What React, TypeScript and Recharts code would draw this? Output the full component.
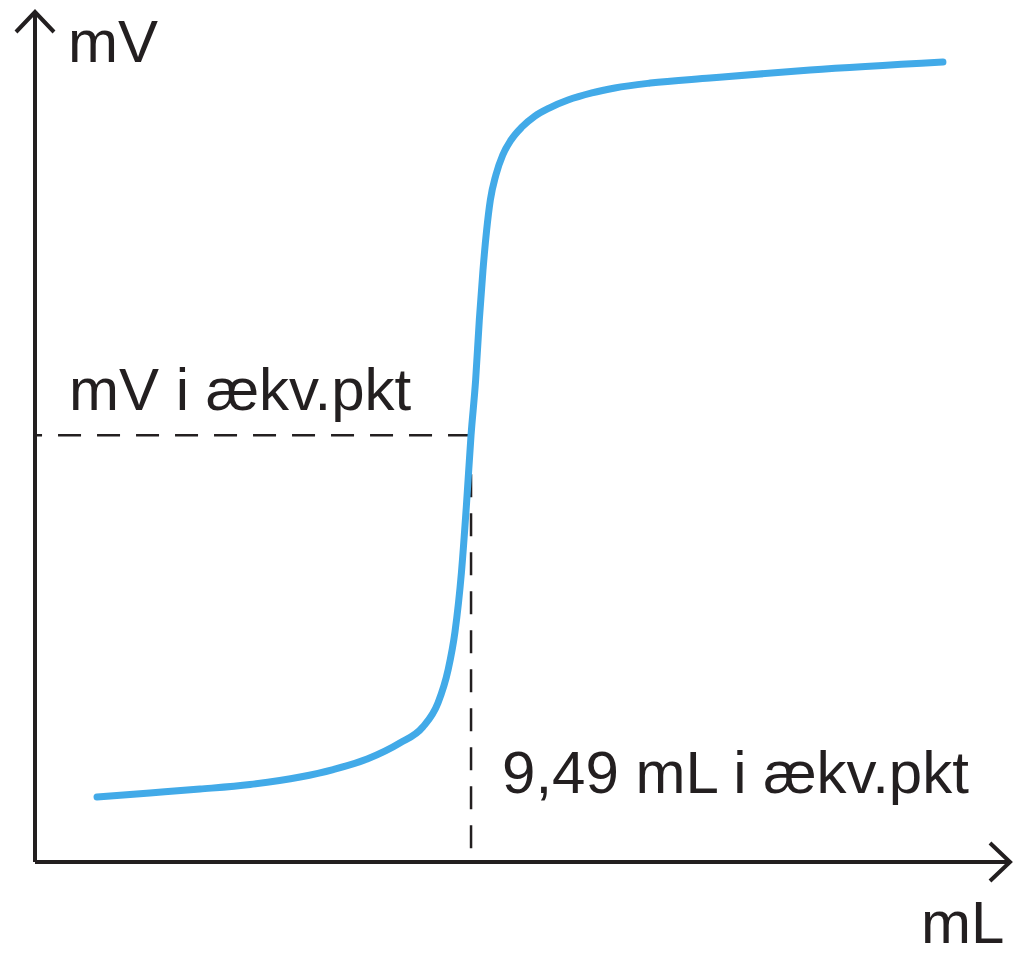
import { LineChart, Line, XAxis, YAxis, ReferenceLine, Label } from "recharts";

// titration: added volume (mL) vs. electrode potential (mV)
const volumeML = [1.35, 2.5, 3.59, 4.68, 5.77, 6.49, 7.23, 7.94, 8.44, 8.77, 8.99, 9.14, 9.28, 9.39, 9.49, 9.59, 9.67, 9.75, 9.83, 9.91, 10.03, 10.18, 10.36, 10.6, 10.88, 11.19, 11.6, 12.12, 12.62, 13.39, 14.69, 16.87, 19.76];
const potentialMV = [38.2, 40.6, 42.9, 45.6, 50.0, 54.4, 60.6, 70.0, 79.4, 93.5, 112.9, 135.3, 170.0, 210.0, 251, 283.5, 318.8, 348.2, 371.8, 389.4, 404.1, 415.9, 424.7, 432.4, 438.8, 443.5, 448.2, 452.4, 455.3, 458.2, 461.2, 465.9, 470.6];

const EQ_ML = 9.49;
const EQ_MV = 251;

const xLabel = "mL";
const yLabel = "mV";
const eqMvLabel = "mV i ækv.pkt";
const eqMlLabel = `${String(EQ_ML).replace(".", ",")} mL i ækv.pkt`;

const data = volumeML.map((ml, i) => ({ ml, mv: potentialMV[i] }));

const INK = "#231f20";
const FONT = "'Liberation Sans', Arial, sans-serif";

const textProps = { fill: INK, fontFamily: FONT, fontSize: 60 };

const App = () => {
  return (
    <div style={{ position: "absolute", left: 0, top: 0, background: "#fff" }}>
      {/* arrow heads for the axes */}
      <svg width={0} height={0} style={{ position: "absolute" }}>
        <defs>
          <marker
            id="axisArrow"
            markerUnits="userSpaceOnUse"
            markerWidth={60}
            markerHeight={60}
            refX={0}
            refY={0}
            viewBox="-30 -30 60 60"
            orient="auto-start-reverse"
            overflow="visible">
            <path d="M -20 -19 L 0 0 L -20 19" fill="none" stroke={INK} strokeWidth={4} />
          </marker>
        </defs>
      </svg>

      <LineChart
        width={1015}
        height={956}
        data={data}
        margin={{ top: 12, right: 5, bottom: 93, left: 34 }}>
        <XAxis
          dataKey="ml"
          type="number"
          domain={[0, 21.22]}
          height={1}
          tick={false}
          tickLine={false}
          axisLine={{ stroke: INK, strokeWidth: 4, markerEnd: "url(#axisArrow)" }}>
          <Label
            content={({ viewBox }: any) => (
              <text x={viewBox.x + viewBox.width - 89} y={viewBox.y + 81} {...textProps}>
                {xLabel}
              </text>
            )}
          />
        </XAxis>
        <YAxis
          type="number"
          domain={[0, 500]}
          width={1}
          tick={false}
          tickLine={false}
          axisLine={{ stroke: INK, strokeWidth: 4, markerStart: "url(#axisArrow)" }}>
          <Label
            content={({ viewBox }: any) => (
              <text x={viewBox.x + 34} y={viewBox.y + 50} {...textProps}>
                {yLabel}
              </text>
            )}
          />
        </YAxis>

        <ReferenceLine
          segment={[
            { x: EQ_ML, y: EQ_MV },
            { x: 0, y: EQ_MV },
          ]}
          stroke={INK}
          strokeWidth={2.5}
          strokeDasharray="23 16">
          <Label
            content={({ viewBox }: any) => (
              <text x={viewBox.x + 34} y={viewBox.y - 25} {...textProps}>
                {eqMvLabel}
              </text>
            )}
          />
        </ReferenceLine>
        <ReferenceLine
          segment={[
            { x: EQ_ML, y: EQ_MV },
            { x: EQ_ML, y: 0 },
          ]}
          stroke={INK}
          strokeWidth={2.5}
          strokeDasharray="23 16">
          <Label
            content={({ viewBox }: any) => (
              <text x={viewBox.x + 31} y={viewBox.y + viewBox.height - 69} {...textProps}>
                {eqMlLabel}
              </text>
            )}
          />
        </ReferenceLine>

        <Line
          type="monotone"
          dataKey="mv"
          stroke="#42aae8"
          strokeWidth={7}
          strokeLinecap="round"
          dot={false}
          activeDot={false}
          isAnimationActive={false}
        />
      </LineChart>
    </div>
  );
};

export default App;
